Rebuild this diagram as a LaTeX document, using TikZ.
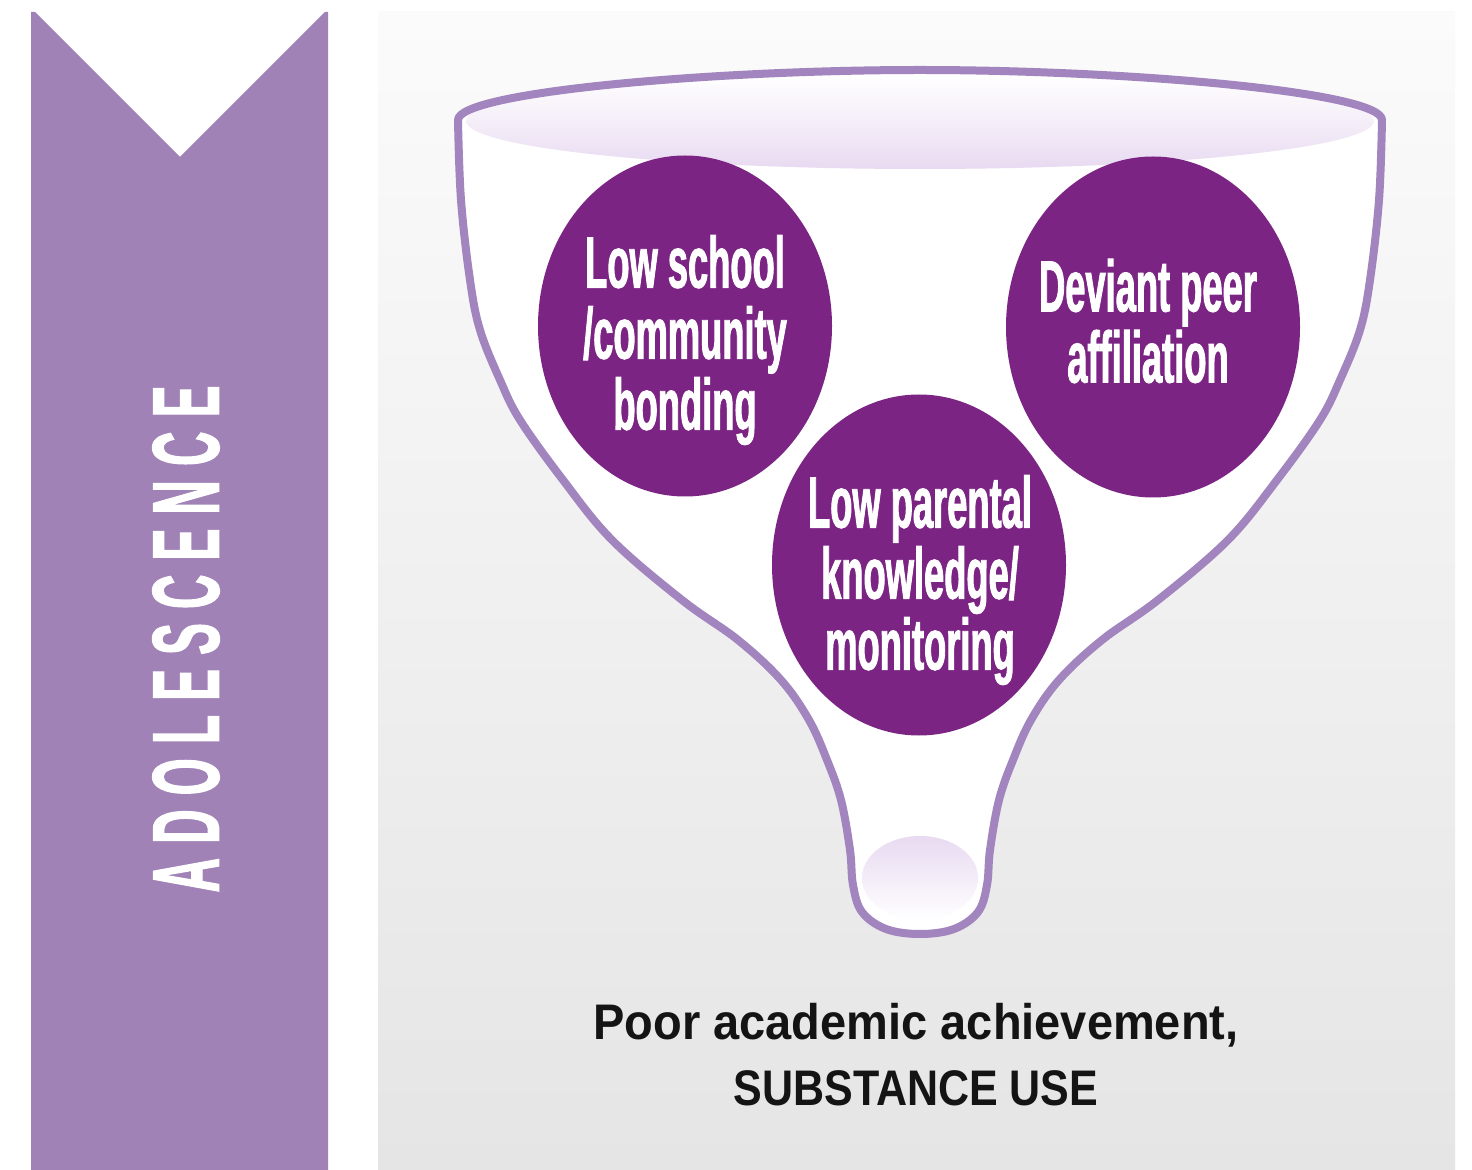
\documentclass[tikz,border=0pt]{standalone}
\usepackage{fontspec}
\usetikzlibrary{shapes.geometric}

% condensed heavy faces for the bubbles and the side banner, a plain bold face for the outcome
\newfontfamily\bubblefont{Liberation Sans}[UprightFont=* Bold, FakeStretch=0.5, FakeBold=1.2]
\newfontfamily\bannerfont{Liberation Sans}[UprightFont=* Bold, FakeStretch=0.5, FakeBold=1.2, LetterSpace=15]
\newfontfamily\outcomefont{Liberation Sans}[UprightFont=* Bold, FakeStretch=0.94]

\definecolor{bannerpurple}{RGB}{160,130,183}
\definecolor{rimpurple}{RGB}{162,132,190}
\definecolor{deeppurple}{RGB}{123,36,132}
\definecolor{lavender}{RGB}{232,218,241}
\definecolor{paneltop}{RGB}{251,251,251}
\definecolor{panelbottom}{RGB}{229,229,229}

\tikzset{
  bubble/.style={ellipse, fill=deeppurple, draw=none, inner sep=0pt,
                 minimum width=147pt, minimum height=170.5pt},
  bubbletext/.style={align=center, text=white, inner sep=0pt,
                 font=\bubblefont\fontsize{36.3}{35.5}\selectfont},
  rim/.style={draw=rimpurple, line width=4pt, line join=round},
}

\begin{document}
\begin{tikzpicture}[x=0.5pt, y=-0.5pt]
\useasboundingbox (0,0) rectangle (1472,1170);
\fill[white] (0,0) rectangle (1472,1170);

% side banner with a V notch at the top
\fill[bannerpurple] (31,12) -- (35,12) -- (180,157) -- (325,12) -- (328,12)
   -- (328,1170) -- (31,1170) -- cycle;
\node[rotate=90, text=white, inner sep=0pt,
      font=\bannerfont\fontsize{47.5}{50}\selectfont]
   (stage) at (186,639) {ADOLESCENCE};

% main panel
\shade[top color=paneltop, bottom color=panelbottom] (378,12) rectangle (1455,1170);

% funnel body (white inside)
\fill[white] (458,120) .. controls (458,92) and (713,70) .. (920,70)
   .. controls (1127,70) and (1382,92) .. (1382,120)
   -- plot[smooth, tension=0.6] coordinates {
     (1382,120) (1379,200) (1370,280) (1360,330) (1340,380) (1320,420)
     (1277,480) (1228,540) (1158,600) (1102,640) (1059,680) (1031,720)
     (1013,760) (999,800) (990,850) (987,885)
     (978,912) (954,929) (920,934) (886,929) (862,912)
     (853,885) (850,850) (841,800) (827,760) (809,720) (781,680)
     (738,640) (682,600) (612,540) (563,480) (520,420) (500,380)
     (480,330) (470,280) (461,200) (458,120)} -- cycle;

% soft inner wall under the rim
\shade[top color=white, bottom color=lavender, middle color=white!55!lavender]
   (920,121) ellipse [x radius=227pt, y radius=24pt];

% soft hollow at the bottom of the spout
\shade[top color=lavender, bottom color=white] (920,878) ellipse [x radius=29pt, y radius=21pt];

% funnel outline
\draw[rim] (458,120) .. controls (458,92) and (713,70) .. (920,70)
   .. controls (1127,70) and (1382,92) .. (1382,120)
   -- plot[smooth, tension=0.6] coordinates {
     (1382,120) (1379,200) (1370,280) (1360,330) (1340,380) (1320,420)
     (1277,480) (1228,540) (1158,600) (1102,640) (1059,680) (1031,720)
     (1013,760) (999,800) (990,850) (987,885)
     (978,912) (954,929) (920,934) (886,929) (862,912)
     (853,885) (850,850) (841,800) (827,760) (809,720) (781,680)
     (738,640) (682,600) (612,540) (563,480) (520,420) (500,380)
     (480,330) (470,280) (461,200) (458,120)} -- cycle;

% risk-factor bubbles
\node[bubble] (school) at (685,326) {};
\node[bubble] (peer) at (1153,327) {};
\node[bubble] (parent) at (919,565) {};

\node[bubbletext] (schooltext) at (685,340) {Low school\\/community\\bonding};
\node[bubbletext] (peertext) at (1148,321) {Deviant peer\\affiliation};
\node[bubbletext] (parenttext) at (920,580) {Low parental\\knowledge/\\monitoring};

% outcome
\node[align=center, text=black!92, inner sep=0pt,
      font=\outcomefont\fontsize{25}{33}\selectfont]
   (outcome) at (916,1055) {Poor academic achievement,\\{\addfontfeatures{FakeStretch=0.86}SUBSTANCE USE}};
\end{tikzpicture}
\end{document}
